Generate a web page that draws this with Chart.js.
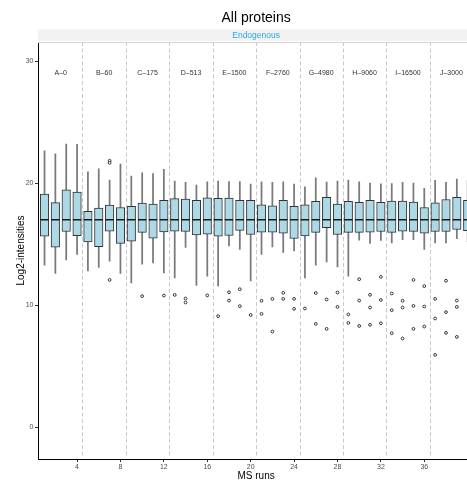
<!DOCTYPE html>
<html>
<head>
<meta charset="utf-8">
<script src="https://cdn.jsdelivr.net/npm/chart.js@4.4.1/dist/chart.umd.min.js"></script>
<style>
  html, body { margin: 0; padding: 0; overflow: hidden; background: #fff; }
</style>
</head>
<body>
<canvas id="boxChart" width="480" height="483"></canvas>
<script>
// MS runs 1..40, 4 runs per spike-in group
var runs = [1, 2, 3, 4, 5, 6, 7, 8, 9, 10, 11, 12, 13, 14, 15, 16, 17, 18, 19, 20,
            21, 22, 23, 24, 25, 26, 27, 28, 29, 30, 31, 32, 33, 34, 35, 36, 37, 38, 39, 40];
var groupLabels = ['A\u20130', 'B\u201360', 'C\u2013175', 'D\u2013513', 'E\u20131500',
                   'F\u20132760', 'G\u20134980', 'H\u20139060', 'I\u201316500', 'J\u20133000'];
var groupCenters = [2.5, 6.5, 10.5, 14.5, 18.5, 22.5, 26.5, 30.5, 34.5, 38.5];
var groupBreaks = [4.5, 8.5, 12.5, 16.5, 20.5, 24.5, 28.5, 32.5, 36.5, 40.5];

// box statistics (log2 intensity)
var whiskerLow = [13.28, 12.6, 13.7, 14.15, 12.81, 13.09, 13.6, 12.6, 11.83, 13.36,
                  13.47, 12.65, 12.24, 14.73, 11.61, 12.38, 11.58, 14.86, 14.56, 11.99,
                  14.15, 14.78, 14.32, 14.45, 12.24, 13.28, 13.55, 13.14, 12.38, 15.33,
                  15.06, 15.3, 15.11, 15.36, 15.36, 14.56, 15.11, 15.11, 15.44, 15.2];
var q1 = [15.65, 14.75, 16.04, 15.7, 15.19, 14.8, 16.07, 15.06, 15.25, 15.96,
          15.49, 16.01, 16.06, 16.04, 15.76, 15.82, 15.66, 15.71, 16.12, 15.79,
          15.98, 15.98, 15.9, 15.46, 15.68, 15.96, 16.34, 15.79, 15.96, 15.96,
          15.98, 16.04, 15.96, 16.07, 16.04, 15.9, 16.04, 16.04, 16.2, 16.1];
var medians = [17.0, 17.0, 17.0, 17.0, 17.0, 17.0, 17.0, 17.0, 17.0, 17.0,
               17.0, 17.0, 17.0, 17.0, 17.0, 17.0, 17.0, 17.0, 17.0, 17.0,
               17.0, 17.0, 17.0, 17.0, 17.0, 17.0, 17.0, 17.0, 17.0, 17.0,
               17.0, 17.0, 17.0, 17.0, 17.0, 17.0, 17.0, 17.0, 17.0, 17.0];
var q3 = [19.1, 18.4, 19.45, 19.26, 17.68, 17.95, 18.2, 18.0, 18.09, 18.36,
          18.28, 18.58, 18.73, 18.69, 18.58, 18.8, 18.75, 18.77, 18.6, 18.58,
          18.22, 18.14, 18.58, 18.09, 18.22, 18.5, 18.83, 18.28, 18.5, 18.42,
          18.58, 18.42, 18.52, 18.52, 18.44, 18.0, 18.39, 18.66, 18.83, 18.6];
var whiskerHigh = [22.65, 22.4, 23.2, 23.17, 20.93, 21.17, 20.25, 21.56, 20.57, 20.84,
                   20.79, 21.12, 20.16, 20.06, 19.84, 20.11, 20.16, 20.13, 20.13, 19.92,
                   20.11, 20.06, 20.11, 19.92, 19.7, 20.43, 20.08, 20.16, 20.25, 20.11,
                   20.0, 19.95, 19.97, 20.06, 20.0, 19.57, 20.22, 20.06, 20.33, 20.2];

// outliers
var outlierRun = [7, 7, 7, 10, 12, 13, 14, 14, 16, 17, 18, 18, 19, 19, 20, 21, 21, 22, 22,
                  23, 23, 24, 24, 25, 26, 26, 27, 27, 28, 28, 29, 29, 30, 30, 30,
                  31, 31, 31, 32, 32, 32, 33, 33, 33, 34, 34, 34, 35, 35, 35,
                  36, 36, 36, 37, 37, 37, 38, 38, 38, 39, 39, 39];
var outlierValue = [21.83, 21.66, 12.07, 10.74, 10.79, 10.84, 10.55, 10.22, 10.8, 9.1,
                    11.06, 10.38, 11.31, 9.92, 9.2, 10.36, 9.29, 10.52, 7.84,
                    11.01, 10.52, 10.52, 9.7, 9.73, 11.0, 8.47, 10.47, 8.06, 11.04, 9.86,
                    9.24, 8.55, 12.13, 10.38, 8.3, 10.85, 9.81, 8.39, 12.32, 10.43, 8.52,
                    10.96, 9.59, 7.7, 10.36, 9.81, 7.27, 12.07, 9.94, 8.06,
                    11.56, 9.89, 8.25, 10.52, 8.91, 5.93, 12.0, 9.43, 7.73, 10.38, 9.86, 7.4];

var xTicks = [4, 8, 12, 16, 20, 24, 28, 32, 36];
var yTicks = [0, 10, 20, 30];

var fontFam = '"Liberation Sans", Arial, Helvetica, sans-serif';

// dashed group separators, group labels and the facet strip
var panelDecor = {
  id: 'panelDecor',
  beforeDatasetsDraw: function (chart) {
    var ctx = chart.ctx, area = chart.chartArea, xs = chart.scales.x;
    ctx.save();
    ctx.strokeStyle = '#c8c8c8';
    ctx.lineWidth = 1;
    ctx.setLineDash([4, 2.5]);
    groupBreaks.forEach(function (b) {
      var px = Math.round(xs.getPixelForValue(b)) + 0.5;
      ctx.beginPath();
      ctx.moveTo(px, area.top);
      ctx.lineTo(px, area.bottom - 1);
      ctx.stroke();
    });
    ctx.restore();
  },
  afterDatasetsDraw: function (chart) {
    var ctx = chart.ctx, xs = chart.scales.x, ys = chart.scales.y;
    ctx.save();
    ctx.fillStyle = '#333';
    ctx.font = '7px ' + fontFam;
    ctx.textAlign = 'center';
    ctx.textBaseline = 'middle';
    groupLabels.forEach(function (lab, i) {
      ctx.fillText(lab, xs.getPixelForValue(groupCenters[i]), ys.getPixelForValue(29.0));
    });
    ctx.restore();
  },
  afterDraw: function (chart) {
    var ctx = chart.ctx, area = chart.chartArea;
    ctx.save();
    ctx.fillStyle = '#f2f2f2';
    ctx.fillRect(area.left, area.top - 12.5, area.right - area.left, 11.5);
    ctx.strokeStyle = '#d4d4d4';
    ctx.lineWidth = 1;
    ctx.beginPath();
    ctx.moveTo(area.left, area.top + 0.5);
    ctx.lineTo(area.right, area.top + 0.5);
    ctx.stroke();
    ctx.fillStyle = '#2aa8e0';
    ctx.font = '8.5px ' + fontFam;
    ctx.textAlign = 'center';
    ctx.textBaseline = 'middle';
    ctx.fillText('Endogenous', (area.left + area.right) / 2, area.top - 6.5);
    ctx.restore();
  }
};

var boxData = runs.map(function (r, i) { return { x: r, y: [q1[i], q3[i]] }; });
var whiskerData = runs.map(function (r, i) { return { x: r, y: [whiskerLow[i], whiskerHigh[i]] }; });
var medianData = runs.map(function (r, i) { return { x: r, y: medians[i] }; });
var outlierData = outlierRun.map(function (r, i) { return { x: r, y: outlierValue[i] }; });

var ctx = document.getElementById('boxChart');
new Chart(ctx, {
  type: 'bar',
  data: {
    datasets: [
      {
        type: 'scatter', data: outlierData, order: 0,
        pointStyle: 'circle', pointRadius: 1.4, pointBorderWidth: 0.9,
        pointBorderColor: '#222', pointBackgroundColor: '#fff'
      },
      {
        type: 'scatter', data: medianData, order: 1,
        pointStyle: 'line', pointRadius: 4.2, pointBorderWidth: 1.6,
        pointBorderColor: '#1a1a1a'
      },
      {
        type: 'bar', data: boxData, order: 2, grouped: false,
        barThickness: 8.5, backgroundColor: '#add8e6',
        borderColor: '#333', borderWidth: 1, borderSkipped: false
      },
      {
        type: 'bar', data: whiskerData, order: 3, grouped: false,
        barThickness: 1.1, backgroundColor: '#7a7a7a', borderWidth: 0
      }
    ]
  },
  options: {
    responsive: false,
    animation: false,
    devicePixelRatio: 1,
    layout: { padding: 0 },
    plugins: {
      legend: { display: false },
      tooltip: { enabled: false },
      title: {
        display: true,
        text: 'All proteins',
        fullSize: false,
        color: '#000',
        font: { family: fontFam, size: 14, weight: 'normal' },
        padding: { top: 10, bottom: 15.2 }
      }
    },
    scales: {
      x: {
        type: 'linear',
        min: 0.4,
        max: 40.6,
        offset: false,
        grid: { display: true, drawOnChartArea: false, drawTicks: true, tickLength: 3, color: '#333', offset: false },
        border: { display: true, color: '#000', width: 1 },
        ticks: { color: '#4d4d4d', font: { family: fontFam, size: 7 }, padding: 1, maxRotation: 0, autoSkip: false },
        afterBuildTicks: function (s) { s.ticks = xTicks.map(function (v) { return { value: v }; }); },
        afterFit: function (s) { s.height = 24; },
        title: {
          display: true, text: 'MS runs', color: '#000',
          font: { family: fontFam, size: 10 }, padding: { top: 0, bottom: 1 }
        }
      },
      y: {
        min: -2.6,
        max: 31.56,
        grid: { display: true, drawOnChartArea: false, drawTicks: true, tickLength: 3, color: '#333' },
        border: { display: true, color: '#000', width: 1 },
        ticks: { color: '#4d4d4d', font: { family: fontFam, size: 7 }, padding: 1.5 },
        afterBuildTicks: function (s) { s.ticks = yTicks.map(function (v) { return { value: v }; }); },
        afterFit: function (s) { s.width = 38; },
        title: {
          display: true, text: 'Log2-intensities', color: '#000',
          font: { family: fontFam, size: 10 }, padding: { top: 15.7, bottom: 0 }
        }
      }
    }
  },
  plugins: [panelDecor]
});
</script>
</body>
</html>
